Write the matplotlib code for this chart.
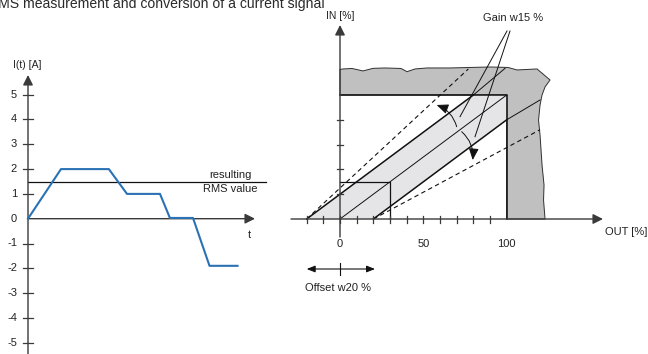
import matplotlib
matplotlib.use("Agg")
import matplotlib.pyplot as plt
from matplotlib.patches import Polygon, FancyArrowPatch

plt.rcParams['font.family'] = ['Liberation Sans', 'DejaVu Sans']

# ---------------- data: left chart (current signal) ----------------
t_vals = [0, 2, 4.9, 6, 8, 8.6, 10, 11, 12.7]
i_vals = [0, 2, 2, 1, 1, 0.03, 0.03, -1.9, -1.9]
rms_value = 1.5
rms_t_end = 14.4
y_ticks_left = [-5, -4, -3, -2, -1, 1, 2, 3, 4, 5]
y_tick_labels_left = ["-5", "-4", "-3", "-2", "-1", "1", "2", "3", "4", "5"]
y_zero_label = "0"

# ---------------- data: right chart (conversion diagram) ----------------
x_ticks_right = [-20, -10, 0, 10, 20, 30, 40, 50, 60, 70, 80, 90]
x_tick_labels_right = {0: "0", 50: "50", 100: "100"}
y_ticks_right = [20, 40, 60, 80]
band_out = [-20, 20, 100, 100, 80]
band_in = [0, 0, 80, 100, 100]
upper_line = ([-20, 80], [0, 100])
lower_line = ([20, 100], [0, 80])
middle_line = ([0, 100], [0, 100])
upper_ext = ([80, 99], [100, 121.5])
lower_ext = ([100, 120], [80, 96])
upper_dash = ([-20, 77], [0, 121])
lower_dash = ([20, 120], [0, 72])
small_rect = ([0, 30, 30], [30, 30, 0])
gray_out = [0, 100, 100, 123.0, 122.1, 122.4, 121.2, 120.6, 120.0, 119.1, 120.0,
            121.2, 123.0, 126.0, 118.2, 106.2, 100.8, 90.0, 78.0, 66.0, 52.2, 45.0,
            40.2, 36.6, 27.0, 19.8, 13.8, 7.2, 1.8, 0]
gray_in = [100, 100, 0, 0, 15.3, 27.4, 43.5, 55.6, 67.7, 79.8, 91.9,
           100, 106.5, 112.1, 121, 120.2, 122.2, 122.6, 122.2, 121.8, 121.8, 121,
           118.8, 121.4, 121.8, 121.5, 119.4, 121.4, 121, 120.6]

# ---------------- figure ----------------
W, H = 648, 354
fig = plt.figure(figsize=(W / 100, H / 100), dpi=100)

# left axes: pixel mapping x = 28 + 16.5*t, y = 218.7 - 24.8*I
pxt, x0l, pyi, y0l = 16.5, 28.0, 24.8, 218.7
ax1 = fig.add_axes([0, 0, 1, 1])
ax1.set_xlim(-x0l / pxt, (W - x0l) / pxt)
ax1.set_ylim((y0l - H) / pyi, y0l / pyi)
ax1.axis('off')
ax1.patch.set_alpha(0)

# right axes: pixel mapping x = 340 + 1.667*OUT, y = 219 - 1.24*IN
pxo, x0r, pyn, y0r = 1.667, 340.0, 1.24, 219.0
ax2 = fig.add_axes([0, 0, 1, 1])
ax2.set_xlim(-x0r / pxo, (W - x0r) / pxo)
ax2.set_ylim((y0r - H) / pyn, y0r / pyn)
ax2.axis('off')
ax2.patch.set_alpha(0)

axis_col = '#3a3a3a'
txt_col = '#222222'
blue = '#2a72b4'
head = '-|>,head_length=0.6,head_width=0.3'

# ----- left chart -----
ax1.annotate('', xy=(0, (y0l - 75) / pyi), xytext=(0, (y0l - H - 2) / pyi),
             arrowprops=dict(arrowstyle=head, lw=1.0, color=axis_col,
                             shrinkA=0, shrinkB=0, mutation_scale=10))
ax1.annotate('', xy=((255 - x0l) / pxt, 0), xytext=(0, 0),
             arrowprops=dict(arrowstyle=head, lw=1.0, color=axis_col,
                             shrinkA=0, shrinkB=0, mutation_scale=10))
tk = 5.0 / pxt
for v, lab in zip(y_ticks_left, y_tick_labels_left):
    ax1.plot([-tk, tk], [v, v], color=axis_col, lw=0.9)
    ax1.text((17 - x0l) / pxt, v, lab, ha='right', va='center', fontsize=8, color=txt_col)
ax1.text((17 - x0l) / pxt, 0, y_zero_label, ha='right', va='center', fontsize=8, color=txt_col)
ax1.text((27 - x0l) / pxt, (y0l - 65) / pyi, "I(t) [A]", ha='center', va='center',
         fontsize=7.5, color=txt_col)
ax1.text((249 - x0l) / pxt, (y0l - 235) / pyi, "t", ha='center', va='center',
         fontsize=8, color=txt_col)
ax1.plot([0, rms_t_end], [rms_value, rms_value], color='#111111', lw=0.9, zorder=2)
ax1.plot(t_vals, i_vals, color=blue, lw=1.5, zorder=3)
ax1.text((230 - x0l) / pxt, (y0l - 175) / pyi, "resulting", ha='center', va='center',
         fontsize=8, color=txt_col)
ax1.text((230 - x0l) / pxt, (y0l - 189.5) / pyi, "RMS value", ha='center', va='center',
         fontsize=8, color=txt_col)

# ----- right chart -----
ax2.add_patch(Polygon(list(zip(gray_out, gray_in)), closed=True, facecolor='#c0c0c0',
                      edgecolor='#303030', lw=0.7, zorder=1))
ax2.add_patch(Polygon(list(zip(band_out, band_in)), closed=True, facecolor='#e5e5e7',
                      edgecolor='none', zorder=2))
ax2.plot([0, 100, 100], [100, 100, 0], color='#111111', lw=1.1, zorder=4)
ax2.plot(*upper_line, color='#111111', lw=1.1, zorder=4)
ax2.plot(*lower_line, color='#111111', lw=1.1, zorder=4)
ax2.plot(*middle_line, color='#111111', lw=0.7, zorder=4)
ax2.plot(*upper_ext, color='#111111', lw=0.7, zorder=4)
ax2.plot(*lower_ext, color='#111111', lw=0.7, zorder=4)
ax2.plot(*upper_dash, color='#111111', lw=0.8, dashes=(4, 3), zorder=4)
ax2.plot(*lower_dash, color='#111111', lw=0.8, dashes=(4, 3), zorder=4)
ax2.plot(*small_rect, color='#111111', lw=0.9, zorder=4)

# axes
ax2.annotate('', xy=((603 - x0r) / pxo, 0), xytext=((291 - x0r) / pxo, 0),
             arrowprops=dict(arrowstyle=head, lw=1.0, color=axis_col,
                             shrinkA=0, shrinkB=0, mutation_scale=10), zorder=5)
ax2.annotate('', xy=(0, (y0r - 25) / pyn), xytext=(0, (y0r - 237) / pyn),
             arrowprops=dict(arrowstyle=head, lw=1.0, color=axis_col,
                             shrinkA=0, shrinkB=0, mutation_scale=10), zorder=5)
for v in x_ticks_right:
    ax2.plot([v, v], [-3.5 / pyn, 3.5 / pyn], color=axis_col, lw=0.9, zorder=5)
for v in y_ticks_right:
    ax2.plot([-3 / pxo, 3 / pxo], [v, v], color=axis_col, lw=0.9, zorder=5)
for v, lab in x_tick_labels_right.items():
    ax2.text(v, (y0r - 244) / pyn, lab, ha='center', va='center', fontsize=8, color=txt_col)
ax2.text((605 - x0r) / pxo, (y0r - 232) / pyn, "OUT [%]", ha='left', va='center',
         fontsize=8, color=txt_col)
ax2.text(0, (y0r - 16) / pyn, "IN [%]", ha='center', va='center', fontsize=7.5, color=txt_col)
ax2.text((513 - x0r) / pxo, (y0r - 18) / pyn, "Gain w15 %", ha='center', va='center',
         fontsize=8, color=txt_col)

# gain leader lines
def d2(px, py):
    return ((px - x0r) / pxo, (y0r - py) / pyn)

for (ax_, ay_), (bx_, by_) in [((507, 31), (460, 116.7)), ((510, 31), (475, 136.7))]:
    p, q = d2(ax_, ay_), d2(bx_, by_)
    ax2.plot([p[0], q[0]], [p[1], q[1]], color='#111111', lw=0.7, zorder=6)

# curved gain arrows
for s, e, r in [((456.7, 126.7), (436.7, 105), 0.25), ((461.7, 131.7), (472.7, 160), -0.25)]:
    arr = FancyArrowPatch(d2(*s), d2(*e), arrowstyle='-|>,head_length=0.7,head_width=0.3',
                          connectionstyle=f'arc3,rad={r}', mutation_scale=10,
                          color='#111111', lw=0.7, shrinkA=0, shrinkB=0, zorder=6)
    ax2.add_patch(arr)

# offset arrow
off_y = (y0r - 269) / pyn
ax2.annotate('', xy=((306.7 - x0r) / pxo, off_y), xytext=((375 - x0r) / pxo, off_y),
             arrowprops=dict(arrowstyle='<|-|>,head_length=0.5,head_width=0.2', lw=0.8,
                             color='#111111', shrinkA=0, shrinkB=0, mutation_scale=10))
ax2.plot([0, 0], [(y0r - 262.7) / pyn, (y0r - 275.3) / pyn], color='#111111', lw=0.8)
ax2.text((338 - x0r) / pxo, (y0r - 288) / pyn, "Offset w20 %", ha='center', va='center',
         fontsize=8, color=txt_col)

# title (cropped at the top-left edge in the reference)
fig.text(325 / W, (H - 8) / H, "RMS measurement and conversion of a current signal",
         ha='right', va='baseline', fontsize=10.1, color='#2a2a2a')

fig.savefig("out.png", dpi=100)
